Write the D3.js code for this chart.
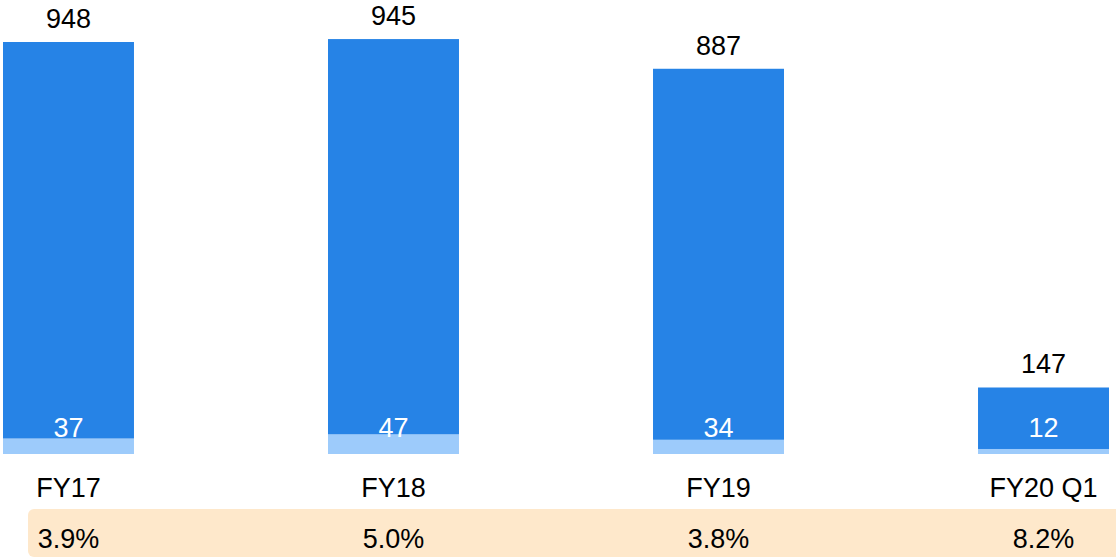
<!DOCTYPE html>
<html>
<head>
<meta charset="utf-8">
<script src="https://cdn.jsdelivr.net/npm/d3@7/dist/d3.min.js"></script>
<style>
  html, body { margin: 0; padding: 0; background: #fff; }
  svg { display: block; font-family: "Liberation Sans", Arial, sans-serif; }
</style>
</head>
<body>
<svg id="chart" width="1116" height="557"></svg>
<script>
const categories = ["FY17", "FY18", "FY19", "FY20 Q1"];
const mainValues = [948, 945, 887, 147];
const baseValues = [37, 47, 34, 12];
const percentLabels = ["3.9%", "5.0%", "3.8%", "8.2%"];

const svg = d3.select("#chart");
const W = 1116, H = 557;
const baseY = 454;
const topY = 42;

const data = categories.map((c, i) => ({
  cat: c, main: mainValues[i], base: baseValues[i], pct: percentLabels[i],
  total: mainValues[i] + baseValues[i]
}));

const x = d3.scaleBand().domain(categories).range([3, 1109])
  .paddingInner(0.597).paddingOuter(0);
const y = d3.scaleLinear().domain([0, data[0].total]).range([baseY, topY]);

// band
svg.append("rect")
  .attr("x", 28).attr("y", 509).attr("width", 1100).attr("height", 48)
  .attr("rx", 6).attr("ry", 6)
  .attr("fill", "#FEE8CB");

const g = svg.append("g");
// base (light) segments
g.selectAll("rect.base").data(data).enter().append("rect")
  .attr("class", "base")
  .attr("x", d => x(d.cat)).attr("width", x.bandwidth())
  .attr("y", d => y(d.base)).attr("height", d => y(0) - y(d.base))
  .attr("fill", "#9DCBFB");
// main (dark) segments
g.selectAll("rect.main").data(data).enter().append("rect")
  .attr("class", "main")
  .attr("x", d => x(d.cat)).attr("width", x.bandwidth())
  .attr("y", d => y(d.total)).attr("height", d => y(d.base) - y(d.total))
  .attr("fill", "#2683E6");

const cx = d => x(d.cat) + x.bandwidth() / 2;

// totals above
g.selectAll("text.top").data(data).enter().append("text")
  .attr("x", cx).attr("y", d => y(d.total) - 14)
  .attr("text-anchor", "middle").attr("font-size", 27).attr("fill", "#000")
  .text(d => d.main);

// inner white labels
g.selectAll("text.in").data(data).enter().append("text")
  .attr("x", cx).attr("y", 437)
  .attr("text-anchor", "middle").attr("font-size", 27).attr("fill", "#fff")
  .text(d => d.base);

// category labels
g.selectAll("text.cat").data(data).enter().append("text")
  .attr("x", cx).attr("y", 497)
  .attr("text-anchor", "middle").attr("font-size", 27).attr("fill", "#000")
  .text(d => d.cat);

// percent labels
g.selectAll("text.pct").data(data).enter().append("text")
  .attr("x", cx).attr("y", 548)
  .attr("text-anchor", "middle").attr("font-size", 27).attr("fill", "#000")
  .text(d => d.pct);
</script>
</body>
</html>
